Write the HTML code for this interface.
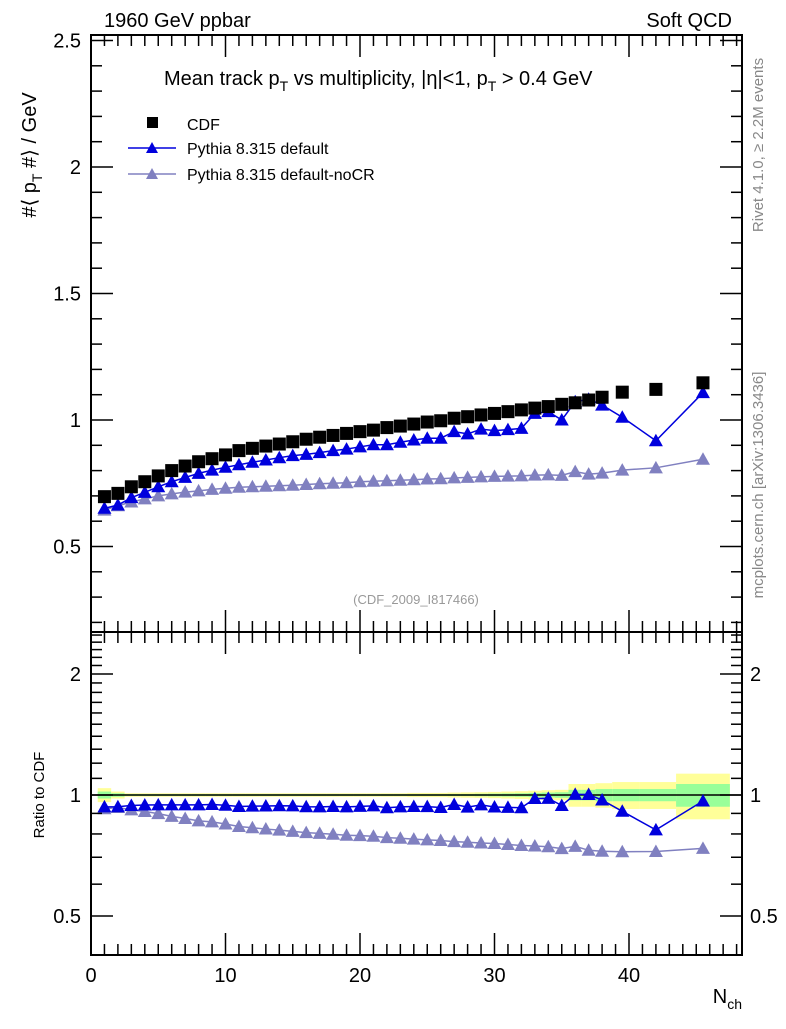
<!DOCTYPE html>
<html><head><meta charset="utf-8"><style>
body{margin:0;background:#fff}
svg{font-family:"Liberation Sans",sans-serif}
</style></head><body>
<svg id="c" width="786" height="1024" viewBox="0 0 786 1024">
<g id="bands"></g>
<g id="marks"></g>
<g id="axes"></g>
<text x="104" y="27" font-size="20">1960 GeV ppbar</text>
<text x="732" y="27" font-size="20" text-anchor="end">Soft QCD</text>
<text x="164" y="85" font-size="20">Mean track p<tspan dy="6" font-size="14">T</tspan><tspan dy="-6"> vs multiplicity, |η|&lt;1, p</tspan><tspan dy="6" font-size="14">T</tspan><tspan dy="-6"> &gt; 0.4 GeV</tspan></text>
<text transform="translate(36,155) rotate(-90)" font-size="20" text-anchor="middle">#⟨ p<tspan dy="6" font-size="14">T</tspan><tspan dy="-6"> #⟩ / GeV</tspan></text>
<text transform="translate(44,795) rotate(-90)" font-size="15" text-anchor="middle">Ratio to CDF</text>
<text x="742" y="1003" font-size="20" text-anchor="end">N<tspan dy="6" font-size="14">ch</tspan></text>
<text transform="translate(763,145) rotate(-90)" font-size="15" fill="#888" text-anchor="middle">Rivet 4.1.0, ≥ 2.2M events</text>
<text transform="translate(763,485) rotate(-90)" font-size="15" fill="#888" text-anchor="middle">mcplots.cern.ch [arXiv:1306.3436]</text>
<text x="416" y="604" font-size="13" fill="#999" text-anchor="middle">(CDF_2009_I817466)</text>
<g>
<rect x="147" y="117" width="11" height="11" fill="#000"/>
<text x="187" y="130" font-size="16">CDF</text>
<line x1="128" y1="148" x2="176" y2="148" stroke="#0000dd" stroke-width="1.5"/>
<polygon points="146,153 158,153 152,142" fill="#0000dd"/>
<text x="187" y="154" font-size="16">Pythia 8.315 default</text>
<line x1="128" y1="174" x2="176" y2="174" stroke="#8080c0" stroke-width="1.5"/>
<polygon points="146,179 158,179 152,168" fill="#8080c0"/>
<text x="187" y="180" font-size="16">Pythia 8.315 default-noCR</text>
</g>
</svg>
<script>
const xs=[1,2,3,4,5,6,7,8,9,10,11,12,13,14,15,16,17,18,19,20,21,22,23,24,25,26,27,28,29,30,31,32,33,34,35,36,37,38,39.5,42,45.5];
const cdf=[0.697,0.71,0.736,0.756,0.779,0.80,0.818,0.835,0.847,0.862,0.879,0.888,0.897,0.905,0.914,0.924,0.932,0.939,0.947,0.954,0.960,0.970,0.976,0.984,0.992,0.997,1.007,1.013,1.02,1.026,1.033,1.04,1.047,1.053,1.062,1.068,1.079,1.09,1.11,1.121,1.147];
const pyDef=[0.651,0.664,0.693,0.714,0.736,0.756,0.773,0.789,0.802,0.813,0.823,0.833,0.842,0.851,0.859,0.864,0.871,0.879,0.885,0.894,0.902,0.902,0.912,0.921,0.928,0.928,0.954,0.945,0.964,0.958,0.962,0.967,1.026,1.033,1.0,1.072,1.082,1.059,1.011,0.918,1.108];
const pyNoCR=[0.644,0.661,0.676,0.688,0.70,0.708,0.715,0.72,0.726,0.73,0.734,0.736,0.738,0.740,0.742,0.745,0.748,0.750,0.752,0.756,0.758,0.760,0.762,0.764,0.767,0.768,0.771,0.773,0.775,0.777,0.778,0.779,0.782,0.783,0.781,0.796,0.786,0.790,0.802,0.811,0.845];
const defErr=[0,0,0,0,0,0,0,0,0,0,0,0,0,0,0,0,0,0,0,0,0,0,0,0,0,0,0,0,0,0,0,0,0,0,0.008,0.012,0.015,0.014,0.012,0.014,0.02];
const statErr=[0.02,0.01,0.005,0.005,0.005,0.005,0.005,0.005,0.005,0.005,0.005,0.005,0.005,0.005,0.005,0.005,0.005,0.005,0.005,0.005,0.005,0.005,0.005,0.005,0.005,0.005,0.006,0.006,0.007,0.008,0.009,0.01,0.012,0.014,0.016,0.03,0.03,0.035,0.035,0.035,0.065];
const totErr=[0.04,0.02,0.01,0.01,0.01,0.01,0.01,0.01,0.01,0.01,0.01,0.01,0.01,0.01,0.01,0.01,0.01,0.01,0.01,0.01,0.01,0.01,0.01,0.012,0.012,0.012,0.014,0.015,0.016,0.018,0.02,0.022,0.025,0.028,0.03,0.065,0.065,0.07,0.077,0.077,0.13];
const mainYTicks=["0.5","1","1.5","2","2.5"];
const xTickLabels=["0","10","20","30","40"];
const ratioTicks=["0.5","1","2"];

const NS="http://www.w3.org/2000/svg";
const L=91,R=742,T=35,M=632,B=955;
const X=v=>L+v*13.45;
const Y=v=>420-(v-1)*253;
const YR=v=>795-121*Math.log2(v);
function mk(tag,attrs,parent){const e=document.createElementNS(NS,tag);for(const k in attrs)e.setAttribute(k,attrs[k]);document.getElementById(parent).appendChild(e);return e;}
const edges=[];for(let i=0;i<xs.length;i++){edges.push([i==0?0.5:(xs[i-1]+xs[i])/2,i==xs.length-1?47.5:(xs[i]+xs[i+1])/2]);}
edges[edges.length-2][1]=43.5;edges[edges.length-1][0]=43.5;
for(let i=0;i<xs.length;i++){
 const [a,b]=edges[i];
 let r=mk('rect',{x:X(a),y:YR(1+totErr[i]),width:X(b)-X(a),height:YR(1-totErr[i])-YR(1+totErr[i]),fill:'#ffff99'},'bands');
 
 
 r=mk('rect',{x:X(a),y:YR(1+statErr[i]),width:X(b)-X(a),height:YR(1-statErr[i])-YR(1+statErr[i]),fill:'#99ff99'},'bands');
 
 
}
let ln=mk('line',{x1:L,x2:R,y1:YR(1),y2:YR(1),stroke:'#000','stroke-width':1.5},'bands');


function series(vals,color,yf,name,err){
 const pts=xs.map((x,i)=>X(x)+','+yf(vals[i])).join(' ');
 const p=mk('polyline',{points:pts,fill:'none',stroke:color,'stroke-width':1.5},'marks');
 
 
 xs.forEach((x,i)=>{
  const cx=X(x),cy=yf(vals[i]);
  if(err&&err[i]>0){const e=mk('line',{x1:cx,x2:cx,y1:yf(vals[i]+err[i]),y2:yf(vals[i]-err[i]),stroke:color,'stroke-width':1.5},'marks');
   
   }
  const t=mk('polygon',{points:`${cx-7},${cy+5.5} ${cx+7},${cy+5.5} ${cx},${cy-7}`,fill:color},'marks');
  
  
 });
}
series(pyNoCR,'#8080c0',Y,'nocr');
series(pyDef,'#0000dd',Y,'default',defErr);
xs.forEach((x,i)=>{const s=mk('rect',{x:X(x)-6.5,y:Y(cdf[i])-6.5,width:13,height:13,fill:'#000'},'marks');
 
 });
const rNo=pyNoCR.map((v,i)=>v/cdf[i]),rDef=pyDef.map((v,i)=>v/cdf[i]);
const rDefErr=defErr.map((e,i)=>e/cdf[i]);
series(rNo,'#8080c0',YR,'ratio-nocr');
series(rDef,'#0000dd',YR,'ratio-default',rDefErr);
function line(x1,y1,x2,y2,w,name){const e=mk('line',{x1,y1,x2,y2,stroke:'#000','stroke-width':w||1.5},'axes');
 
 }
function text(x,y,s,anchor,name){const e=mk('text',{x,y,'font-size':20,'text-anchor':anchor},'axes');e.textContent=s;
 
 }
const f1=mk('rect',{x:L,y:T,width:R-L,height:M-T,fill:'none',stroke:'#000','stroke-width':2},'axes');


const f2=mk('rect',{x:L,y:M,width:R-L,height:B-M,fill:'none',stroke:'#000','stroke-width':2},'axes');


for(let v=0.2;v<=2.5001;v+=0.1){const y=Y(v);const maj=Math.abs(v*2-Math.round(v*2))<1e-6;const l=maj?22:11;
 line(L,y,L+l,y);line(R,y,R-l,y);}
mainYTicks.forEach(s=>text(L-10,Y(parseFloat(s))+7,s,'end','y-tick-label'));
for(let v=0;v<=48;v++){const x=X(v);const l=v%10==0?22:11;
 [T,M].forEach(y0=>{line(x,y0,x,y0+l);});
 [M,B].forEach(y0=>{line(x,y0,x,y0-l);});}
xTickLabels.forEach(s=>text(X(parseFloat(s)),982,s,'middle','x-tick-label'));
for(let v=0.4;v<=2.5001;v+=0.1){const y=YR(v);const maj=[0.5,1,2].some(m=>Math.abs(m-v)<1e-6);const l=maj?22:11;
 line(L,y,L+l,y);line(R,y,R-l,y);}
ratioTicks.forEach(s=>{const y=YR(parseFloat(s))+7;text(L-10,y,s,'end','ratio-tick-label');text(R+8,y,s,'start','ratio-tick-label-right');});
</script>
</body></html>
